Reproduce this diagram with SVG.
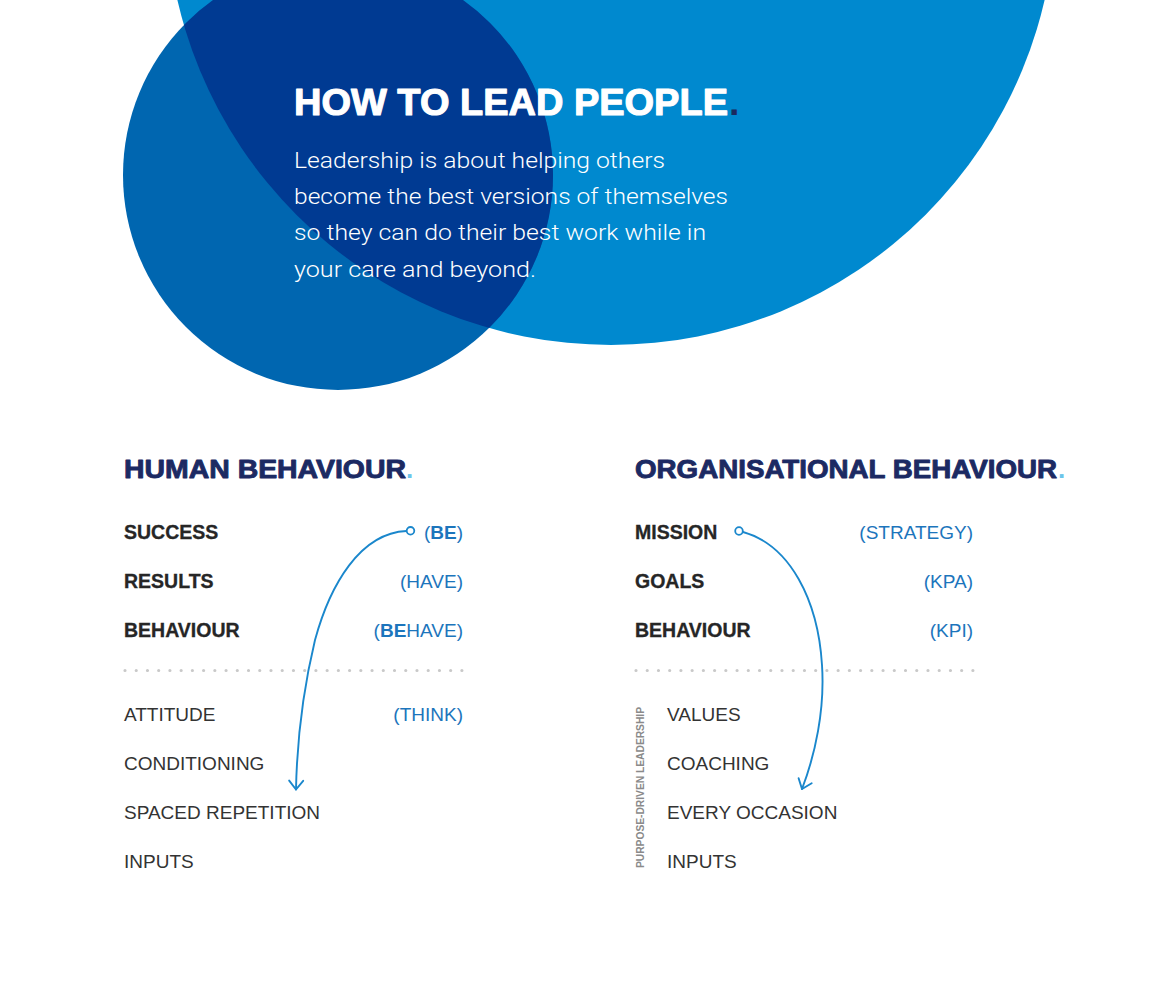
<svg xmlns="http://www.w3.org/2000/svg" width="1165" height="1000" viewBox="0 0 1165 1000">
<style>
.title{font-family:"Liberation Sans",Arial,sans-serif;font-weight:700;fill:#fff;stroke:#fff;stroke-width:1.1;stroke-linejoin:round}
.body{font-family:Roboto,"Liberation Sans",sans-serif;font-weight:300;font-size:22.5px;fill:#fff}
.head{font-family:"Liberation Sans",Arial,sans-serif;font-weight:700;font-size:26px;fill:#1C2A63;stroke:#1C2A63;stroke-width:0.9;stroke-linejoin:round}
.hdot{font-family:"Liberation Sans",Arial,sans-serif;font-weight:700;font-size:26px;fill:#6CC5EA}
.lb{font-family:"Liberation Sans",Arial,sans-serif;font-weight:700;font-size:19.5px;fill:#262626;stroke:#262626;stroke-width:0.3}
.lr{font-family:"Liberation Sans",Arial,sans-serif;font-weight:400;font-size:19px;fill:#333}
.bl{font-family:"Liberation Sans",Arial,sans-serif;font-weight:400;font-size:19px;fill:#1C75BC;text-anchor:end}
.bl .b{font-weight:700}
.vert{font-family:"Liberation Sans",Arial,sans-serif;font-weight:700;font-size:10.5px;fill:#8A8A8A}
.dots{stroke:#C9C9C9;stroke-width:3.2;stroke-linecap:round;stroke-dasharray:0 11.23;fill:none}
.conn{fill:none;stroke:#1A87CC;stroke-width:1.9;stroke-linecap:round}
.start{fill:#fff;stroke:#1A87CC;stroke-width:1.8}
</style>
<defs>
<clipPath id="clipLight"><circle cx="611" cy="-100" r="445"/></clipPath>
<marker id="chev" markerUnits="userSpaceOnUse" markerWidth="24" markerHeight="24" viewBox="-12 -12 24 24" refX="0" refY="0" orient="auto" overflow="visible">
<path d="M-8.8,-7 L0,0 L-8.8,7" fill="none" stroke="#1A87CC" stroke-width="1.9" stroke-linecap="round" stroke-linejoin="round"/>
</marker>
</defs>
<rect x="0" y="0" width="1165" height="1000" fill="#fff"/>
<g id="backdrop">
<circle cx="611" cy="-100" r="445" fill="#0089CF"/>
<circle cx="338" cy="175" r="215" fill="#0066B0"/>
<circle cx="338" cy="175" r="215" fill="#003A92" clip-path="url(#clipLight)"/>
</g>
<g id="intro">
<text class="title" x="294" y="115" font-size="37.5" textLength="434" lengthAdjust="spacingAndGlyphs">HOW TO LEAD PEOPLE</text>
<text x="729" y="115" font-family="Liberation Sans, Arial, sans-serif" font-weight="700" font-size="37.5" fill="#1A2A5E">.</text>
<text class="body" x="294" y="168" textLength="371" lengthAdjust="spacingAndGlyphs">Leadership is about helping others</text>
<text class="body" x="294" y="204" textLength="434" lengthAdjust="spacingAndGlyphs">become the best versions of themselves</text>
<text class="body" x="294" y="240" textLength="412" lengthAdjust="spacingAndGlyphs">so they can do their best work while in</text>
<text class="body" x="294" y="277" textLength="242" lengthAdjust="spacingAndGlyphs">your care and beyond.</text>
</g>
<g id="human-behaviour">
<text class="head" x="124" y="478" textLength="282" lengthAdjust="spacingAndGlyphs">HUMAN BEHAVIOUR</text>
<text class="hdot" x="406" y="478">.</text>
<text class="lb" x="124" y="539">SUCCESS</text>
<text class="bl" x="463" y="539">(<tspan class="b">BE</tspan>)</text>
<text class="lb" x="124" y="588">RESULTS</text>
<text class="bl" x="463" y="588">(HAVE)</text>
<text class="lb" x="124" y="637">BEHAVIOUR</text>
<text class="bl" x="463" y="637">(<tspan class="b">BE</tspan>HAVE)</text>
<line class="dots" x1="125" y1="670.5" x2="462" y2="670.5"/>
<text class="lr" x="124" y="721">ATTITUDE</text>
<text class="bl" x="463" y="721">(THINK)</text>
<text class="lr" x="124" y="770">CONDITIONING</text>
<text class="lr" x="124" y="819">SPACED REPETITION</text>
<text class="lr" x="124" y="868">INPUTS</text>
</g>
<g id="organisational-behaviour">
<text class="head" x="635" y="478" textLength="422" lengthAdjust="spacingAndGlyphs">ORGANISATIONAL BEHAVIOUR</text>
<text class="hdot" x="1058" y="478">.</text>
<text class="lb" x="635" y="539">MISSION</text>
<text class="bl" x="973" y="539">(STRATEGY)</text>
<text class="lb" x="635" y="588">GOALS</text>
<text class="bl" x="973" y="588">(KPA)</text>
<text class="lb" x="635" y="637">BEHAVIOUR</text>
<text class="bl" x="973" y="637">(KPI)</text>
<line class="dots" x1="636" y1="670.5" x2="973" y2="670.5"/>
<text class="vert" transform="translate(643.5,868) rotate(-90)" textLength="161" lengthAdjust="spacingAndGlyphs">PURPOSE-DRIVEN LEADERSHIP</text>
<text class="lr" x="667" y="721">VALUES</text>
<text class="lr" x="667" y="770">COACHING</text>
<text class="lr" x="667" y="819">EVERY OCCASION</text>
<text class="lr" x="667" y="868">INPUTS</text>
</g>
<g id="connectors">
<path class="conn" d="M406.5,531 C360,533 330,585 315,640 C303,690 297,740 296,789.5" marker-end="url(#chev)"/>
<circle class="start" cx="410.5" cy="530.8" r="3.8"/>
<path class="conn" d="M743,532 C790,545 818,600 822,665 C825,710 815,755 802,789" marker-end="url(#chev)"/>
<circle class="start" cx="739" cy="531" r="3.8"/>
</g>
</svg>
